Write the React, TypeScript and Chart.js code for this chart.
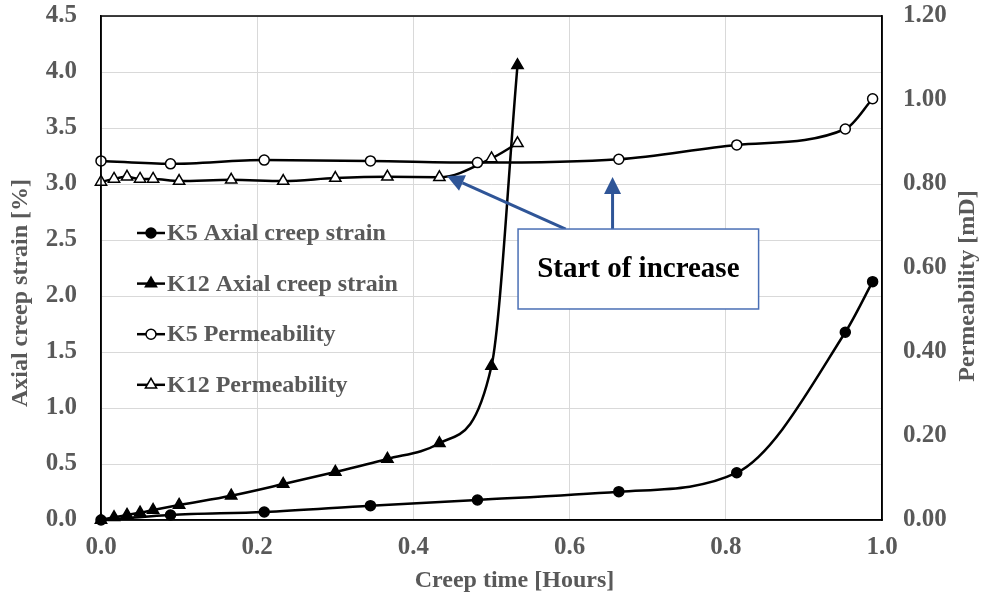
import React, { useEffect, useRef } from "react";
import { Chart, registerables } from "chart.js";

Chart.register(...registerables);

// ---- data ----
const k5Time = [0, 0.089, 0.209, 0.345, 0.482, 0.663, 0.814, 0.953, 0.988];
const k5Strain = [0, 0.045, 0.071, 0.128, 0.179, 0.253, 0.422, 1.676, 2.128];
const k5Perm = [0.855, 0.848, 0.857, 0.855, 0.851, 0.859, 0.893, 0.931, 1.003];

const k12Time = [0, 0.0167, 0.0333, 0.05, 0.0667, 0.1, 0.1667, 0.2333, 0.3, 0.3667, 0.4333, 0.5, 0.5333];
const k12Strain = [0, 0.024, 0.045, 0.065, 0.089, 0.134, 0.217, 0.321, 0.429, 0.545, 0.685, 1.375, 4.06];
const k12Perm = [0.805, 0.812, 0.817, 0.812, 0.812, 0.807, 0.81, 0.807, 0.814, 0.817, 0.816, 0.861, 0.897];

const seriesNames = ["K5 Axial creep strain", "K12 Axial creep strain", "K5 Permeability", "K12 Permeability"];

const xTitle = "Creep time [Hours]";
const yTitle = "Axial creep strain [%]";
const y1Title = "Permeability [mD]";

const annotationText = "Start of increase";
// box corners and arrows in data units (x: hours, y: left axis %)
const annotationBox = { x0: 0.534, x1: 0.842, yTop: 2.598, yBottom: 1.884 };
const annotationArrows = [
  { fromX: 0.595, fromY: 2.598, toX: 0.443, toY: 3.071 },
  { fromX: 0.655, fromY: 2.598, toX: 0.655, toY: 3.0625 },
];

const FONT = "'Liberation Serif', 'Times New Roman', serif";
const GREY = "#595959";

function drawMarker(ctx: CanvasRenderingContext2D, style: string, x: number, y: number, r: number, fill: string) {
  ctx.beginPath();
  if (style === "triangle") {
    let rad = 0;
    ctx.moveTo(x + Math.sin(rad) * r, y - Math.cos(rad) * r);
    rad += (2 * Math.PI) / 3;
    ctx.lineTo(x + Math.sin(rad) * r, y - Math.cos(rad) * r);
    rad += (2 * Math.PI) / 3;
    ctx.lineTo(x + Math.sin(rad) * r, y - Math.cos(rad) * r);
    ctx.closePath();
  } else {
    ctx.arc(x, y, r, 0, Math.PI * 2);
  }
  ctx.fillStyle = fill;
  ctx.fill();
  ctx.lineWidth = 1.5;
  ctx.strokeStyle = "#000";
  ctx.stroke();
}

const framePlugin = {
  id: "frame",
  afterDatasetsDraw(chart: any) {
    const { ctx, chartArea } = chart;
    ctx.save();
    ctx.strokeStyle = "#000";
    ctx.lineWidth = 1.5;
    ctx.strokeRect(chartArea.left, chartArea.top, chartArea.right - chartArea.left, chartArea.bottom - chartArea.top);
    ctx.restore();
  },
};

const titlesPlugin = {
  id: "axisTitles",
  afterDraw(chart: any) {
    const { ctx, chartArea } = chart;
    const midY = (chartArea.top + chartArea.bottom) / 2;
    const midX = (chartArea.left + chartArea.right) / 2;
    ctx.save();
    ctx.fillStyle = GREY;
    ctx.font = `bold 24px ${FONT}`;
    ctx.textAlign = "center";
    ctx.textBaseline = "middle";
    // x title
    ctx.fillText(xTitle, midX + 23, chart.height - 13);
    // left title
    ctx.save();
    ctx.translate(21, midY + 25);
    ctx.rotate(-Math.PI / 2);
    ctx.fillText(yTitle, 0, 0);
    ctx.restore();
    // right title
    ctx.save();
    ctx.translate(chart.width - 15, midY + 18);
    ctx.rotate(-Math.PI / 2);
    ctx.fillText(y1Title, 0, 0);
    ctx.restore();
    ctx.restore();
  },
};

const legendPlugin = {
  id: "insideLegend",
  afterDatasetsDraw(chart: any) {
    const { ctx, chartArea } = chart;
    ctx.save();
    chart.data.datasets.forEach((ds: any, i: number) => {
      const y = chartArea.top + 217 + i * 50.6;
      const x0 = chartArea.left + 36;
      ctx.beginPath();
      ctx.moveTo(x0, y);
      ctx.lineTo(x0 + 28, y);
      ctx.strokeStyle = "#000";
      ctx.lineWidth = 2.5;
      ctx.stroke();
      drawMarker(ctx, ds.pointStyle, x0 + 14, y, ds.pointRadius, ds.pointBackgroundColor);
      ctx.fillStyle = GREY;
      ctx.font = `bold 24px ${FONT}`;
      ctx.textAlign = "left";
      ctx.textBaseline = "middle";
      ctx.fillText(ds.label, x0 + 30, y + 1);
    });
    ctx.restore();
  },
};

const annotationPlugin = {
  id: "startAnnotation",
  afterDraw(chart: any) {
    const { ctx } = chart;
    const xs = chart.scales.x;
    const ys = chart.scales.y;
    const blue = "#2F5597";
    ctx.save();
    annotationArrows.forEach((a) => {
      const x1 = xs.getPixelForValue(a.fromX);
      const y1 = ys.getPixelForValue(a.fromY);
      const x2 = xs.getPixelForValue(a.toX);
      const y2 = ys.getPixelForValue(a.toY);
      const ang = Math.atan2(y2 - y1, x2 - x1);
      const headLen = 17;
      const headW = 8.5;
      const bx = x2 - Math.cos(ang) * headLen;
      const by = y2 - Math.sin(ang) * headLen;
      ctx.beginPath();
      ctx.moveTo(x1, y1);
      ctx.lineTo(bx, by);
      ctx.strokeStyle = blue;
      ctx.lineWidth = 3;
      ctx.stroke();
      ctx.beginPath();
      ctx.moveTo(x2, y2);
      ctx.lineTo(bx + Math.sin(ang) * headW, by - Math.cos(ang) * headW);
      ctx.lineTo(bx - Math.sin(ang) * headW, by + Math.cos(ang) * headW);
      ctx.closePath();
      ctx.fillStyle = blue;
      ctx.fill();
    });
    const left = xs.getPixelForValue(annotationBox.x0);
    const right = xs.getPixelForValue(annotationBox.x1);
    const top = ys.getPixelForValue(annotationBox.yTop);
    const bottom = ys.getPixelForValue(annotationBox.yBottom);
    ctx.fillStyle = "#fff";
    ctx.fillRect(left, top, right - left, bottom - top);
    ctx.strokeStyle = "#4A6FB5";
    ctx.lineWidth = 1.5;
    ctx.strokeRect(left, top, right - left, bottom - top);
    ctx.fillStyle = "#000";
    ctx.font = `bold 29px ${FONT}`;
    ctx.textAlign = "center";
    ctx.textBaseline = "middle";
    ctx.fillText(annotationText, (left + right) / 2, (top + bottom) / 2 + 1);
    ctx.restore();
  },
};

export default function App() {
  const ref = useRef<HTMLCanvasElement | null>(null);

  useEffect(() => {
    if (!ref.current) return;
    const tickFont = { family: FONT, weight: "bold" as const, size: 25 };
    const common = {
      borderColor: "#000",
      borderWidth: 2.5,
      pointBorderColor: "#000",
      pointBorderWidth: 1.5,
      cubicInterpolationMode: "monotone" as const,
      clip: false as any,
      showLine: true,
    };
    const chart = new Chart(ref.current, {
      type: "line",
      data: {
        datasets: [
          {
            ...common,
            label: seriesNames[0],
            data: k5Time.map((t, i) => ({ x: t, y: k5Strain[i] })),
            yAxisID: "y",
            pointStyle: "circle",
            pointRadius: 5,
            pointBackgroundColor: "#000",
          },
          {
            ...common,
            label: seriesNames[1],
            data: k12Time.map((t, i) => ({ x: t, y: k12Strain[i] })),
            yAxisID: "y",
            pointStyle: "triangle",
            pointRadius: 6.5,
            pointBackgroundColor: "#000",
          },
          {
            ...common,
            label: seriesNames[2],
            data: k5Time.map((t, i) => ({ x: t, y: k5Perm[i] })),
            yAxisID: "y1",
            pointStyle: "circle",
            pointRadius: 5,
            pointBackgroundColor: "#fff",
          },
          {
            ...common,
            label: seriesNames[3],
            data: k12Time.map((t, i) => ({ x: t, y: k12Perm[i] })),
            yAxisID: "y1",
            pointStyle: "triangle",
            pointRadius: 6.5,
            pointBackgroundColor: "#fff",
          },
        ] as any,
      },
      options: {
        animation: false,
        responsive: false,
        events: [],
        layout: { padding: { top: 16, left: 0, right: 0, bottom: 0 } },
        plugins: {
          legend: { display: false },
          tooltip: { enabled: false },
          title: { display: false },
        },
        scales: {
          x: {
            type: "linear",
            min: 0,
            max: 1,
            ticks: {
              stepSize: 0.2,
              font: tickFont,
              color: GREY,
              padding: 13,
              maxRotation: 0,
              callback: (v: any) => Number(v).toFixed(1),
            },
            grid: { color: "#d9d9d9", lineWidth: 1, drawTicks: false },
            border: { color: "#000", width: 1.5 },
            title: { display: false },
            afterFit: (s: any) => {
              s.height = 74;
              s.paddingLeft = 0;
              s.paddingRight = 0;
            },
          },
          y: {
            type: "linear",
            position: "left",
            min: 0,
            max: 4.5,
            ticks: {
              stepSize: 0.5,
              font: tickFont,
              color: GREY,
              padding: 24,
              callback: (v: any) => Number(v).toFixed(1),
            },
            grid: { color: "#d9d9d9", lineWidth: 1, drawTicks: false },
            border: { color: "#000", width: 1.5 },
            title: { display: false },
            afterFit: (s: any) => {
              s.width = 101;
              s.paddingTop = 0;
              s.paddingBottom = 0;
            },
          },
          y1: {
            type: "linear",
            position: "right",
            min: 0,
            max: 1.2,
            ticks: {
              stepSize: 0.2,
              font: tickFont,
              color: GREY,
              padding: 21,
              callback: (v: any) => Number(v).toFixed(2),
            },
            grid: { drawOnChartArea: false, drawTicks: false },
            border: { color: "#000", width: 1.5 },
            title: { display: false },
            afterFit: (s: any) => {
              s.width = 101;
              s.paddingTop = 0;
              s.paddingBottom = 0;
            },
          },
        },
      } as any,
      plugins: [framePlugin, legendPlugin, annotationPlugin, titlesPlugin],
    });
    return () => chart.destroy();
  }, []);

  return (
    <div style={{ position: "fixed", left: 0, top: 0, width: 983, height: 594, background: "#fff" }}>
      <canvas ref={ref} width={983} height={594} />
    </div>
  );
}
